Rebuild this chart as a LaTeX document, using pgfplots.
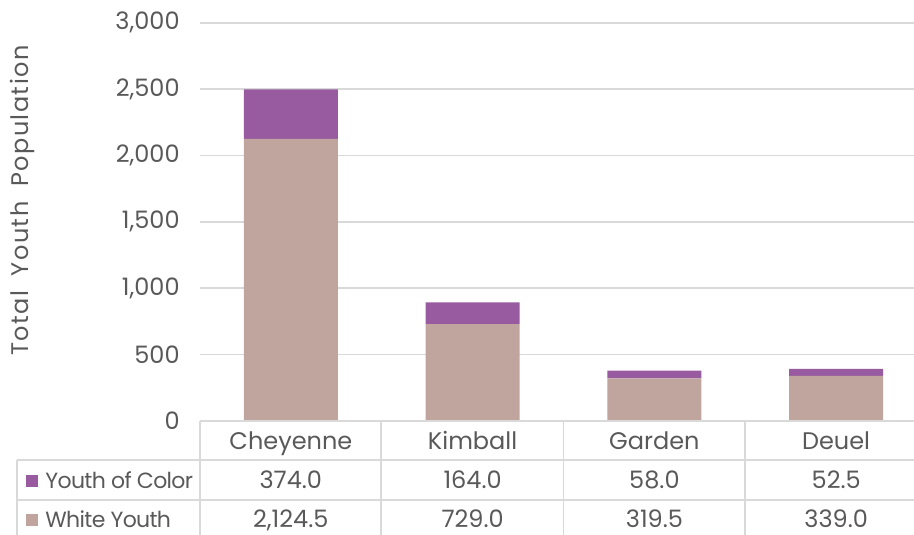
\documentclass[border=0pt]{standalone}
\usepackage{fontspec}
\setmainfont{Poppins}
\usepackage{pgfplots}
\pgfplotsset{compat=1.18}

\definecolor{poc}{HTML}{985BA0}
\definecolor{wy}{HTML}{BFA59E}
\definecolor{txt}{HTML}{595959}
\definecolor{grd}{HTML}{D9D9D9}

\begin{document}
\begin{tikzpicture}[font=\fontsize{12}{14}\selectfont, text=txt]
\begin{axis}[
    scale only axis,
    width=363.5pt, height=199pt,
    ybar stacked, bar width=47pt,
    xmin=-0.5, xmax=3.5, ymin=0, ymax=3000,
    ytick={0,500,...,3000},
    xtick={0,1,2,3},
    xticklabels={Cheyenne,Kimball,Garden,Deuel},
    xticklabel style={anchor=base, inner sep=0pt, yshift=-14.1pt},
    yticklabel style={anchor=east, inner sep=0pt, xshift=-10pt},
    /pgf/number format/assume math mode=true,
    /pgf/number format/1000 sep={,},
    ymajorgrids,
    grid style={grd, line width=0.9pt},
    axis line style={draw=none},
    major tick length=0pt,
    ylabel={\addfontfeatures{LetterSpace=6}Total\hspace{3.5pt} Youth\hspace{3.5pt} Population},
    ylabel style={at={(axis description cs:-0.2448,0.553)}, anchor=center},
    clip=false,
]
\addplot[fill=wy, draw=none] coordinates {(0,2124.5) (1,729) (2,319.5) (3,339)};
\addplot[fill=poc, draw=none] coordinates {(0,374) (1,164) (2,58) (3,52.5)};
\end{axis}

% data table under the bars
\begin{scope}[grd, line width=0.9pt]
\draw (0,0) -- (363.5pt,0);
\draw (-91.5pt,-19.75pt) -- (363.5pt,-19.75pt);
\draw (-91.5pt,-39.5pt) -- (363.5pt,-39.5pt);
\draw (-91.5pt,-59pt) -- (363.5pt,-59pt);
\draw (-91.5pt,-19.75pt) -- (-91.5pt,-59pt);
\foreach \x in {0,90.4,181.7,272.6} \draw (\x pt,0) -- (\x pt,-59pt);
\end{scope}

\fill[poc] (-87pt,-33pt) rectangle (-81pt,-27pt);
\fill[wy] (-87pt,-52.6pt) rectangle (-81pt,-46.6pt);
\node[anchor=base west, inner sep=0pt, font=\fontsize{11}{13}\selectfont\addfontfeatures{LetterSpace=-3}] at (-77.5pt,-33.6pt) {Youth of Color};
\node[anchor=base west, inner sep=0pt, font=\fontsize{11}{13}\selectfont\addfontfeatures{LetterSpace=-3}] at (-77.5pt,-53.2pt) {White Youth};

\foreach \x/\a/\b in {45.4/374.0/{2,124.5}, 136.3/164.0/729.0, 227.2/58.0/319.5, 318.1/52.5/339.0} {
  \node[anchor=base, inner sep=0pt] at (\x pt,-33.8pt) {\a};
  \node[anchor=base, inner sep=0pt] at (\x pt,-53.4pt) {\b};
}

\pgfresetboundingbox
\path (-100pt,-57pt) rectangle (357pt,210.4pt);
\end{tikzpicture}
\end{document}
